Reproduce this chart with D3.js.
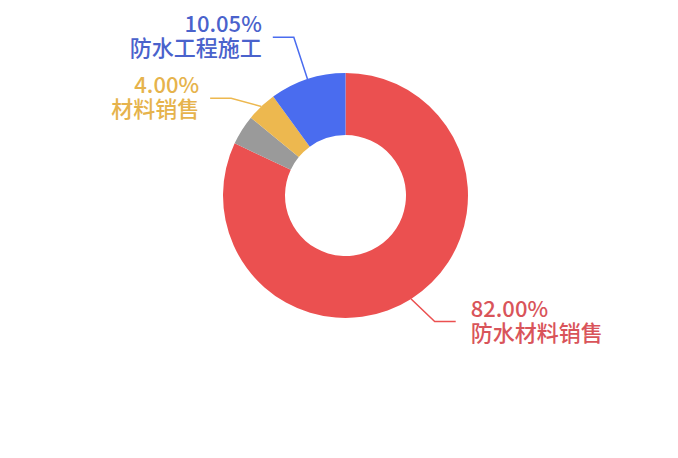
<!DOCTYPE html>
<html>
<head>
<meta charset="utf-8">
<script src="https://cdn.jsdelivr.net/npm/d3@7"></script>
<style>
  html, body { margin: 0; padding: 0; background: #fff; }
  svg { display: block; }
</style>
</head>
<body>
<div id="chart"></div>
<script>
// slice data, clockwise from 12 o'clock
const categories = ["防水材料销售", "其他", "材料销售", "防水工程施工"];
const values = [82.00, 3.95, 4.00, 10.05];
const showLabel = [true, false, true, true];
const colors = ["#eb5050", "#9a9a9a", "#edb84f", "#4a6cef"];
const textColors = ["#d9545a", "#9a9a9a", "#e6b34c", "#4a62cc"];

const width = 678;
const height = 458;
const cx = 345.5, cy = 195.5;
const rOuter = 122.5, rInner = 60.5;
const len1 = 44, len2 = 21, gap = 11;
const fontSize = 22, lineGap = 24;

const svg = d3.select("#chart").append("svg")
    .attr("width", width)
    .attr("height", height);

const g = svg.append("g").attr("transform", "translate(" + cx + "," + cy + ")");

const pie = d3.pie().sort(null).value(d => d.value);
const arc = d3.arc().innerRadius(rInner).outerRadius(rOuter);

const data = categories.map((c, i) => ({name: c, value: values[i], i: i}));
const arcs = pie(data);

g.selectAll("path.slice")
    .data(arcs)
    .enter()
    .append("path")
    .attr("class", "slice")
    .attr("d", arc)
    .attr("fill", d => colors[d.data.i]);

// label layout: radial first segment, then horizontal; push apart when crowded
let labels = arcs.filter(d => showLabel[d.data.i]).map(d => {
    const a = (d.startAngle + d.endAngle) / 2;
    const sx = Math.sin(a), sy = -Math.cos(a);
    return {
        d: d,
        side: sx < 0 ? -1 : 1,
        start: [rOuter * sx, rOuter * sy],
        ex: (rOuter + len1) * sx,
        ey: (rOuter + len1) * sy
    };
});

const minSpace = 61;
const maxY = 126;   // keep labels inside the chart box
[-1, 1].forEach(side => {
    const s = labels.filter(l => l.side === side).sort((a, b) => a.ey - b.ey);
    for (let k = 0; k < s.length; k++) {
        if (k > 0 && s[k].ey - s[k - 1].ey < minSpace) s[k].ey = s[k - 1].ey + minSpace;
        if (s[k].ey > maxY) s[k].ey = maxY;
    }
});

labels.forEach(l => {
    const i = l.d.data.i;
    const endX = l.ex + l.side * len2;
    const tx = endX + l.side * (l.side > 0 ? gap + 4 : gap);
    g.append("polyline")
        .attr("points", [l.start, [l.ex, l.ey], [endX, l.ey]].map(p => p.join(",")).join(" "))
        .attr("fill", "none")
        .attr("stroke", colors[i])
        .attr("stroke-width", 1.5);

    const t = g.append("text")
        .attr("x", tx)
        .attr("y", l.ey)
        .attr("text-anchor", l.side < 0 ? "end" : "start")
        .attr("fill", textColors[i])
        .style("font-family", "'Noto Sans CJK SC', 'Noto Sans', sans-serif")
        .style("font-weight", 500)
        .style("font-size", fontSize + "px");
    t.append("tspan")
        .attr("x", tx)
        .attr("dy", -5)
        .text(d3.format(".2f")(l.d.data.value) + "%");
    t.append("tspan")
        .attr("x", tx)
        .attr("dy", lineGap)
        .text(l.d.data.name);
});
</script>
</body>
</html>
